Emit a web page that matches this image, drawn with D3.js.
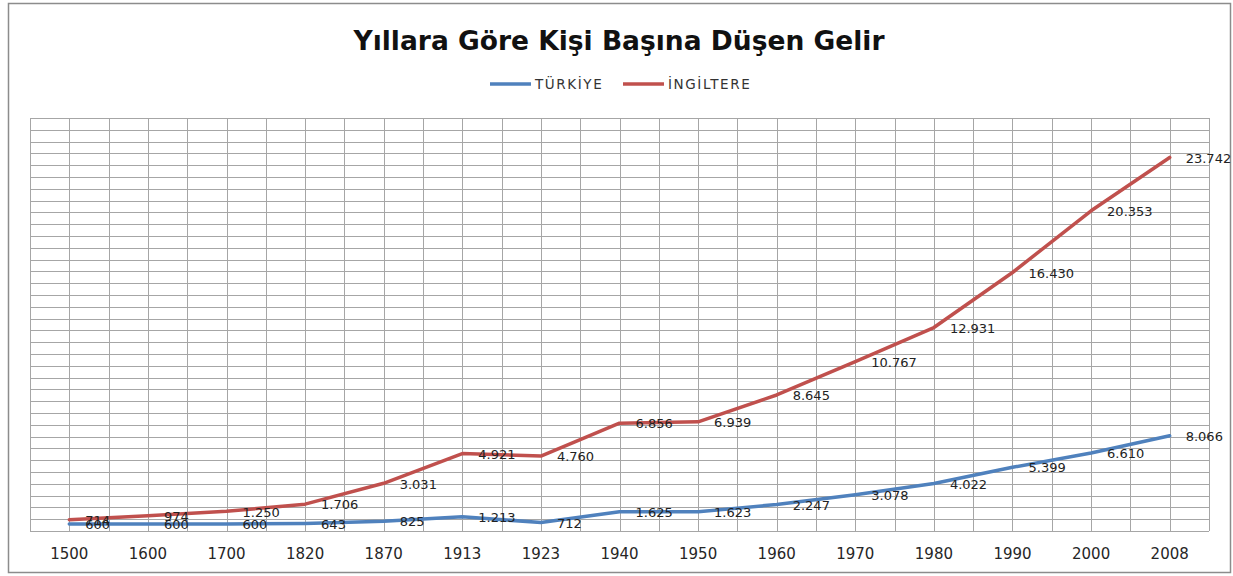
<!DOCTYPE html>
<html>
<head>
<meta charset="utf-8">
<script src="https://cdn.jsdelivr.net/npm/d3@7"></script>
<style>
  body { margin: 0; background: #fff; }
  svg text { font-family: "DejaVu Sans", Verdana, sans-serif; }
</style>
</head>
<body>
<div id="chart"></div>
<script>
var years = ["1500", "1600", "1700", "1820", "1870", "1913", "1923", "1940", "1950", "1960", "1970", "1980", "1990", "2000", "2008"];
var turkiye = [600, 600, 600, 643, 825, 1213, 712, 1625, 1623, 2247, 3078, 4022, 5399, 6610, 8066];
var ingiltere = [714, 974, 1250, 1706, 3031, 4921, 4760, 6856, 6939, 8645, 10767, 12931, 16430, 20353, 23742];
var seriesNames = ["TÜRKİYE", "İNGİLTERE"];
var seriesColors = ["#4F81BD", "#C0504D"];

var width = 1233, height = 576;
var margin = { top: 118, bottom: 45, left: 30, right: 24 };

var svg = d3.select("#chart")
    .append("svg")
    .attr("width", width)
    .attr("height", height);

// outer frame
svg.append("rect")
    .attr("x", 8.5)
    .attr("y", 3.5)
    .attr("width", 1222)
    .attr("height", 569)
    .attr("fill", "#fff")
    .attr("stroke", "#8c8c8c")
    .attr("stroke-width", 1.5);

var x = d3.scaleBand()
    .domain(years)
    .range([margin.left, width - margin.right])
    .padding(0);

// the two series sit on separate (hidden) value axes in the original
var yPrimary = d3.scaleLinear()
    .domain([0, 35000])
    .range([height - margin.bottom, margin.top]);

var ySecondary = d3.scaleLinear()
    .domain([0, 26250])
    .range([height - margin.bottom, margin.top]);

var yScales = [yPrimary, ySecondary];

var cx = function (d, i) { return x(years[i]) + x.bandwidth() / 2; };

// grid
var grid = svg.append("g").attr("stroke", "#a6a6a6").attr("stroke-width", 1);
grid.selectAll(".hg")
    .data(yPrimary.ticks(35))
    .enter().append("line")
    .attr("x1", margin.left)
    .attr("x2", width - margin.right)
    .attr("y1", function (d) { return Math.round(yPrimary(d)) + 0.5; })
    .attr("y2", function (d) { return Math.round(yPrimary(d)) + 0.5; });

var halfSteps = d3.range(0, years.length * 2 + 1);
grid.selectAll(".vg")
    .data(halfSteps)
    .enter().append("line")
    .attr("x1", function (k) { return Math.round(margin.left + k * x.bandwidth() / 2) + 0.5; })
    .attr("x2", function (k) { return Math.round(margin.left + k * x.bandwidth() / 2) + 0.5; })
    .attr("y1", margin.top)
    .attr("y2", height - margin.bottom);

// x axis labels
var xAxis = d3.axisBottom(x).tickSize(0).tickPadding(0);
var gx = svg.append("g")
    .attr("transform", "translate(0," + (height - margin.bottom) + ")")
    .call(xAxis);
gx.select(".domain").remove();
gx.selectAll("text")
    .attr("y", 17)
    .attr("dy", "0.71em")
    .attr("font-size", 15)
    .attr("fill", "#262626")
    .style("font-family", "'DejaVu Sans', Verdana, sans-serif");

// title
svg.append("text")
    .text("Yıllara Göre Kişi Başına Düşen Gelir")
    .attr("x", 619)
    .attr("y", 50)
    .attr("text-anchor", "middle")
    .attr("font-size", 26.5)
    .attr("font-weight", "bold")
    .attr("fill", "#111");

// legend
var legendX = [490, 623];
seriesNames.forEach(function (name, i) {
    svg.append("line")
        .attr("x1", legendX[i])
        .attr("x2", legendX[i] + 41)
        .attr("y1", 84)
        .attr("y2", 84)
        .attr("stroke", seriesColors[i])
        .attr("stroke-width", 3.5);
    svg.append("text")
        .text(name)
        .attr("x", legendX[i] + 45)
        .attr("y", 89)
        .attr("font-size", 13.5)
        .attr("letter-spacing", 1.6)
        .attr("fill", "#333");
});

var fmt = d3.formatLocale({ decimal: ",", thousands: ".", grouping: [3], currency: ["", ""] }).format(",d");

[turkiye, ingiltere].forEach(function (vals, i) {
    var ys = yScales[i];
    var line = d3.line()
        .x(cx)
        .y(function (d) { return ys(d); });
    svg.append("path")
        .datum(vals)
        .attr("d", line)
        .attr("fill", "none")
        .attr("stroke", seriesColors[i])
        .attr("stroke-width", 3.5)
        .attr("stroke-linejoin", "round")
        .attr("stroke-linecap", "round");
});

[turkiye, ingiltere].forEach(function (vals, i) {
    var ys = yScales[i];
    svg.append("g").selectAll("text")
        .data(vals)
        .enter().append("text")
        .text(function (d) { return fmt(d); })
        .attr("x", function (d, j) { return cx(d, j) + 16; })
        .attr("y", function (d) { return ys(d); })
        .attr("dy", "0.4em")
        .attr("font-size", 13)
        .attr("fill", "#222");
});
</script>
</body>
</html>
